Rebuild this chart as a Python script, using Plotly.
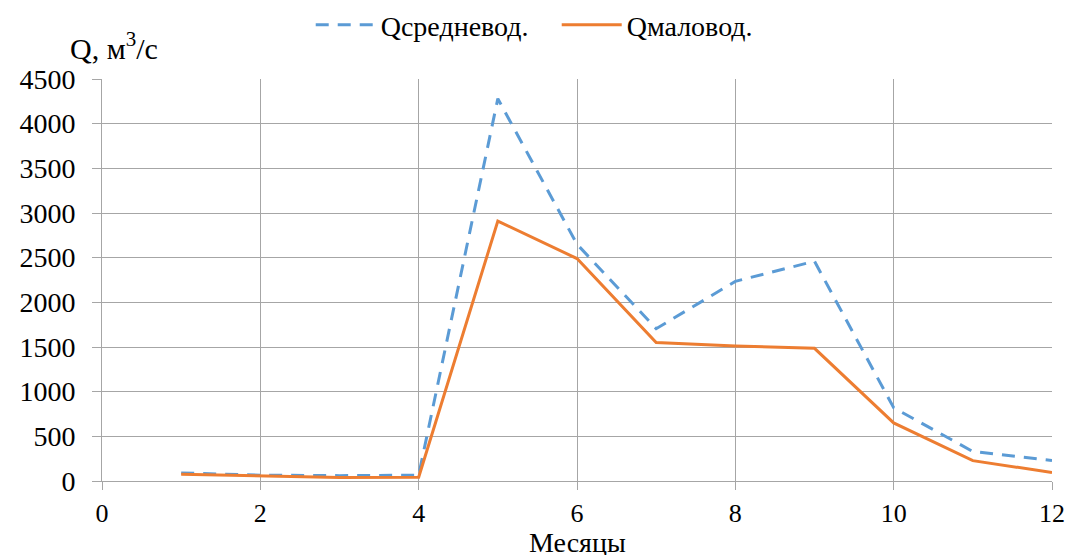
import plotly.graph_objects as go

# Monthly discharge, m3/s
months = [1, 2, 3, 4, 5, 6, 7, 8, 9, 10, 11, 12]
q_mean_year = [90, 65, 60, 65, 4280, 2650, 1705, 2235, 2460, 820, 330, 230]
q_dry_year = [75, 53, 38, 42, 2910, 2490, 1550, 1512, 1485, 650, 228, 95]

x_ticks = [0, 2, 4, 6, 8, 10, 12]
y_ticks = [0, 500, 1000, 1500, 2000, 2500, 3000, 3500, 4000, 4500]

font_family = "Liberation Serif"
grid_color = "#a6a6a6"

fig = go.Figure()
fig.add_trace(go.Scatter(
    x=months, y=q_mean_year, mode="lines", name="Qсредневод.",
    line=dict(color="#5B9BD5", width=3, dash="13px,9px"),
))
fig.add_trace(go.Scatter(
    x=months, y=q_dry_year, mode="lines", name="Qмаловод.",
    line=dict(color="#ED7D31", width=3),
))

fig.update_layout(
    width=1068, height=555,
    margin=dict(l=102, r=16, t=79, b=74, autoexpand=False),
    paper_bgcolor="white", plot_bgcolor="white",
    font=dict(family=font_family, size=26, color="black"),
    showlegend=True,
    legend=dict(
        orientation="h", x=0.2197, xanchor="left", y=1.0, yanchor="top",
        yref="container", font=dict(family=font_family, size=28),
        itemwidth=60, entrywidth=171, entrywidthmode="pixels",
        bgcolor="rgba(0,0,0,0)",
    ),
    xaxis=dict(
        range=[0, 12], tickvals=x_ticks, ticktext=[str(v) for v in x_ticks],
        showgrid=True, gridcolor=grid_color, gridwidth=1,
        showline=True, linecolor=grid_color, linewidth=1,
        ticks="outside", ticklen=8, tickcolor=grid_color,
        ticklabelstandoff=1, zeroline=False, automargin=False,
        tickfont=dict(family=font_family, size=26),
    ),
    yaxis=dict(
        range=[0, 4500], tickvals=y_ticks, ticktext=[str(v) for v in y_ticks],
        showgrid=True, gridcolor=grid_color, gridwidth=1,
        showline=True, linecolor=grid_color, linewidth=1,
        ticks="outside", ticklen=9, tickcolor=grid_color,
        ticklabelstandoff=11, zeroline=False, automargin=False,
        tickfont=dict(family=font_family, size=28),
    ),
)

# Axis titles
fig.add_annotation(
    text="Месяцы", xref="paper", yref="paper",
    x=0.5, y=0, xanchor="center", yanchor="top", yshift=-45,
    showarrow=False, borderpad=0, font=dict(family=font_family, size=28),
)
fig.add_annotation(
    text="Q, м<sup>3</sup>/с", xref="paper", yref="paper",
    x=-0.036, y=1.0, xanchor="left", yanchor="bottom", yshift=12,
    showarrow=False, font=dict(family=font_family, size=30),
)

fig.write_html("out.html")
